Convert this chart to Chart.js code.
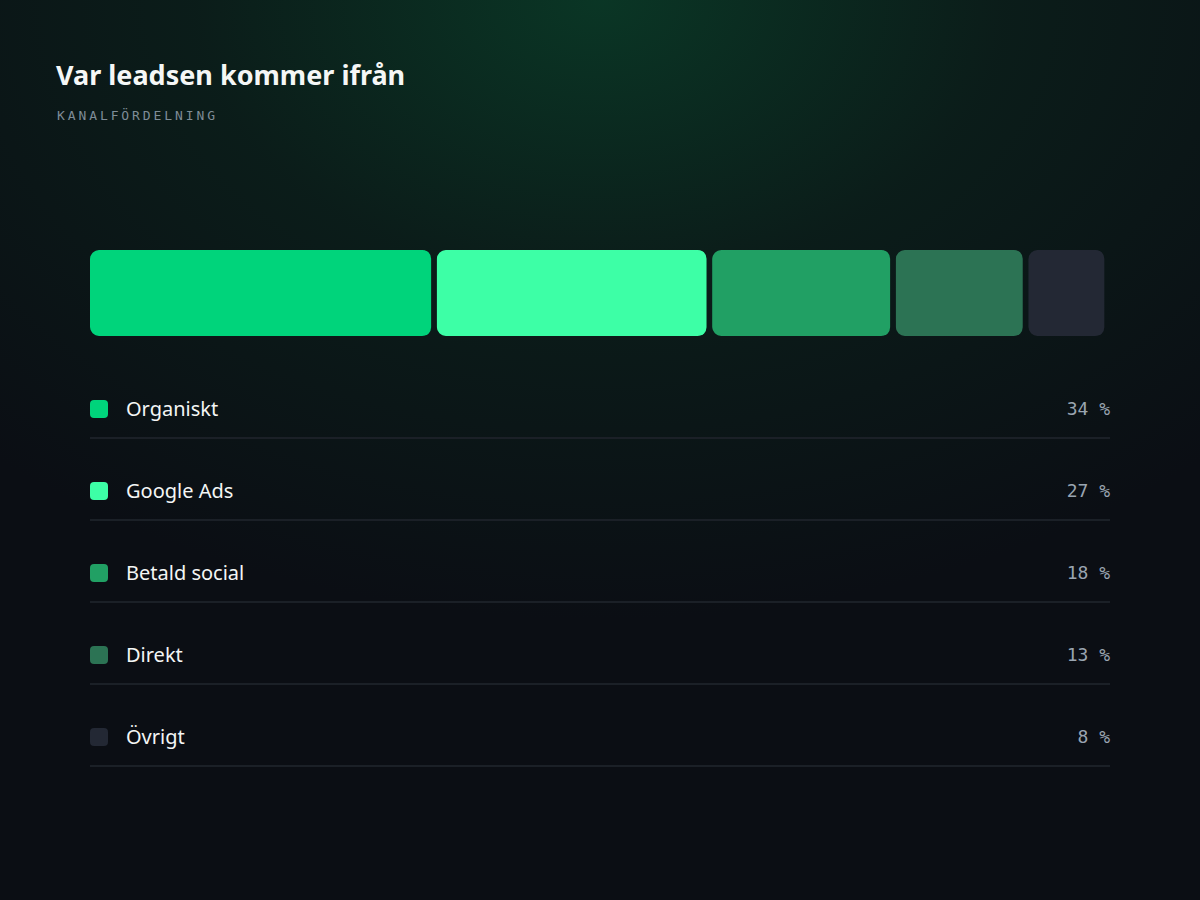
<!DOCTYPE html>
<html lang="sv">
<head>
<meta charset="utf-8">
<title>Var leadsen kommer ifrån</title>
<script src="https://cdn.jsdelivr.net/npm/chart.js@4.4.1/dist/chart.umd.min.js"></script>
<style>
  html, body {
    margin: 0;
    width: 1200px;
    height: 900px;
    overflow: hidden;
    background: #0b0e14;
  }
  body {
    background:
      radial-gradient(ellipse 900px 620px at 600px 0px, rgba(10, 56, 38, 0.95) 0%, rgba(11, 38, 29, 0.6) 45%, rgba(11, 14, 20, 0) 100%),
      #0b0e14;
    font-family: "Segoe UI", "Noto Sans", "Open Sans", sans-serif;
    color: #f2f5f3;
  }
  h1 {
    position: absolute;
    left: 56px;
    top: 56px;
    margin: 0;
    font-size: 27px;
    font-weight: 700;
    line-height: 38px;
    color: #f5f7f6;
  }
  .sub {
    position: absolute;
    left: 57px;
    top: 108px;
    font-family: "DejaVu Sans Mono", "Liberation Mono", monospace;
    font-size: 13px;
    letter-spacing: 2.9px;
    color: #7f8c97;
  }
  .chart-box {
    position: absolute;
    left: 90px;
    top: 250px;
    width: 1020px;
    height: 86px;
  }
  #legend {
    position: absolute;
    left: 90px;
    top: 380px;
    width: 1020px;
    margin: 0;
    padding: 0;
    list-style: none;
  }
  #legend li {
    display: flex;
    align-items: center;
    height: 57px;
    margin-bottom: 23px;
    border-bottom: 2px solid #1b2027;
  }
  #legend .sw {
    width: 18px;
    height: 18px;
    border-radius: 4px;
    margin-right: 18px;
    margin-top: 1px;
  }
  #legend .name {
    flex: 1;
    font-size: 20px;
    color: #f4f6f5;
  }
  #legend .val {
    font-family: "DejaVu Sans Mono", "Liberation Mono", monospace;
    font-size: 18px;
    color: #9aa5b1;
  }
</style>
</head>
<body>
<h1>Var leadsen kommer ifrån</h1>
<div class="sub">KANALFÖRDELNING</div>
<div class="chart-box"><canvas id="shareChart"></canvas></div>
<ul id="legend"></ul>

<script>
// kanaler och andelar (%)
const channels = ["Organiskt", "Google Ads", "Betald social", "Direkt", "Övrigt"];
const shares = [34, 27, 18, 13, 8];
const colors = ["#00d47b", "#3dffa6", "#21a064", "#2c7354", "#232834"];

// ============================
// Stacked share bar
// ============================
function initShareChart() {
  const canvas = document.getElementById("shareChart");
  const ctx = canvas.getContext("2d");

  const datasets = channels.map((name, i) => ({
    label: name,
    data: [shares[i]],
    backgroundColor: colors[i],
    borderColor: "rgba(0,0,0,0)",
    // transparent right border = the gap between segments
    borderWidth: { top: 0, bottom: 0, left: 0, right: 6 },
    borderSkipped: false,
    borderRadius: { topLeft: 9, bottomLeft: 9, topRight: 15, bottomRight: 15 },
    barPercentage: 1,
    categoryPercentage: 1
  }));

  return new Chart(ctx, {
    type: "bar",
    data: {
      labels: ["Andel"],
      datasets
    },
    options: {
      indexAxis: "y",
      responsive: true,
      maintainAspectRatio: false,
      animation: false,
      layout: { padding: { left: 0, right: -6, top: 0, bottom: 0 } },
      plugins: {
        legend: { display: false },
        tooltip: { enabled: false }
      },
      scales: {
        x: {
          stacked: true,
          min: 0,
          max: shares.reduce((a, b) => a + b, 0),
          display: false
        },
        y: {
          stacked: true,
          display: false
        }
      }
    }
  });
}

// ============================
// Legend list
// ============================
function buildLegend() {
  const ul = document.getElementById("legend");
  channels.forEach((name, i) => {
    const li = document.createElement("li");
    li.innerHTML =
      '<span class="sw" style="background:' + colors[i] + '"></span>' +
      '<span class="name">' + name + '</span>' +
      '<span class="val">' + shares[i] + ' %</span>';
    ul.appendChild(li);
  });
}

initShareChart();
buildLegend();
</script>
</body>
</html>
